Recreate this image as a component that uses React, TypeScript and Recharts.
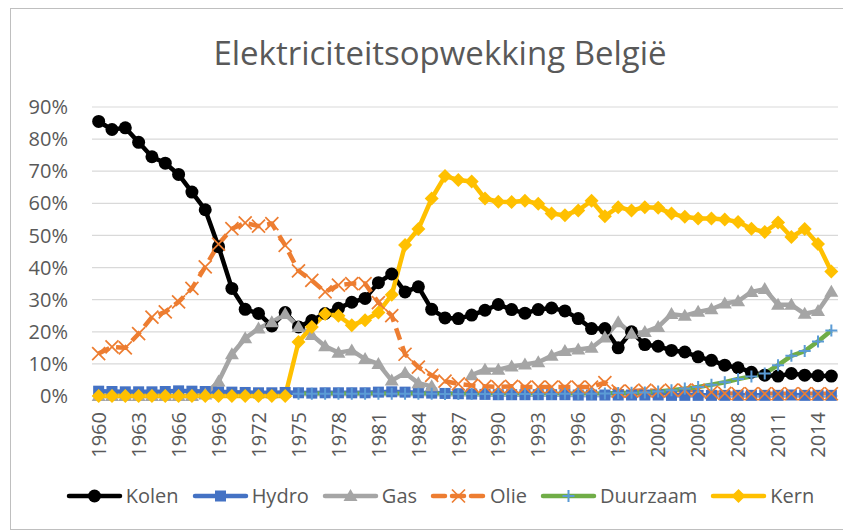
import React from 'react';
import { LineChart, Line, XAxis, YAxis, CartesianGrid, Legend } from 'recharts';

// jaren (categorie-as)
const years = [
  1960, 1961, 1962, 1963, 1964, 1965, 1966, 1967, 1968, 1969,
  1970, 1971, 1972, 1973, 1974, 1975, 1976, 1977, 1978, 1979,
  1980, 1981, 1982, 1983, 1984, 1985, 1986, 1987, 1988, 1989,
  1990, 1991, 1992, 1993, 1994, 1995, 1996, 1997, 1998, 1999,
  2000, 2001, 2002, 2003, 2004, 2005, 2006, 2007, 2008, 2009,
  2010, 2011, 2012, 2013, 2014, 2015,
];
const yearTicks = [1960, 1963, 1966, 1969, 1972, 1975, 1978, 1981, 1984, 1987, 1990, 1993, 1996, 1999, 2002, 2005, 2008, 2011, 2014];
const percentTicks = [0, 10, 20, 30, 40, 50, 60, 70, 80, 90];

// aandeel in % van de totale productie
const kolen = [
  85.5, 83, 83.5, 79, 74.5, 72.5, 69, 63.5, 58, 46.5,
  33.5, 27, 25.7, 21.8, 26, 21.5, 23.5, 25.7, 27.3, 29.2,
  30.4, 35.3, 38, 32.4, 34, 27, 24.3, 24.1, 25.2, 26.7,
  28.5, 26.9, 25.8, 26.9, 27.4, 26.5, 24.1, 21, 21, 15,
  20, 16, 15.5, 14.2, 13.7, 12.2, 11.1, 9.6, 8.8, 7.4,
  6.5, 6.2, 7, 6.5, 6.3, 6.2,
];
const hydro = [
  1.5, 1.4, 1.3, 1.3, 1.3, 1.4, 1.6, 1.5, 1.4, 1.3,
  1.2, 1.1, 1, 1, 1.1, 1, 0.9, 1, 1, 1,
  1, 1.2, 1.3, 1.2, 1, 0.9, 0.8, 0.7, 0.6, 0.5,
  0.4, 0.4, 0.4, 0.4, 0.4, 0.4, 0.3, 0.3, 0.3, 0.3,
  0.3, 0.3, 0.3, 0.2, 0.2, 0.2, 0.2, 0.2, 0.2, 0.2,
  0.2, 0.2, 0.3, 0.2, 0.2, 0.2,
];
const gas = [
  0, 0, 0, 0, 0, 0, 0, 0, 0.5, 4.5,
  13, 18, 21, 23, 25.5, 21.5, 19, 15.5, 13.5, 14.2,
  11.5, 10, 4.8, 7.2, 4, 3, null, null, 6.5, 8.2,
  8.2, 9.2, 9.8, 10.5, 12.5, 14, 14.5, 15, 18.2, 23,
  19.4, 19.9, 21.5, 25.5, 25, 26.2, 27, 28.8, 29.5, 32.4,
  33.3, 28.4, 28.4, 25.6, 26.5, 32.5,
];
const olie = [
  13.2, 15.3, 15, 19.4, 24.6, 26.2, 29.3, 33.5, 40.2, 47.3,
  52.1, 53.9, 52.9, 53.7, 46.9, 39, 36, 32.4, 34.5, 35,
  35, 29.1, 25, 13, 9, 6.4, 4.6, 3.8, 3.3, 3,
  2.8, 3, 2.8, 2.8, 2.8, 2.8, 2.8, 2.8, 4.2, 1.5,
  1.5, 1.8, 1.5, 1.8, 1.8, 1.8, 1.2, 0.8, 0.7, 0.7,
  0.7, 0.7, 0.7, 0.7, 0.7, 0.7,
];
const duurzaam = [
  null, null, null, null, null, null, null, null, null, null,
  null, null, null, null, null, 0.7, 0.7, 0.7, 0.7, 0.7,
  0.7, 0.7, 0.7, 0.7, 0.7, 0.7, 0.6, 0.6, 0.6, 0.6,
  0.6, 0.6, 0.6, 0.6, 0.6, 0.7, 0.7, 0.7, 0.8, 0.9,
  1, 1.1, 1.4, 1.8, 2.3, 2.8, 3.5, 4.3, 5.3, 6.1,
  7, 9.6, 12.5, 14, 17, 20.4,
];
const kern = [
  0, 0, 0, 0, 0, 0, 0, 0, 0, 0,
  0, 0, 0, 0, 0, 16.8, 21.5, 25.5, 25, 22,
  23.6, 26, 31.5, 47, 52, 61.5, 68.5, 67.3, 66.8, 61.5,
  60.5, 60.4, 60.8, 59.9, 56.8, 56.3, 57.8, 60.8, 56, 58.8,
  57.8, 58.8, 58.6, 56.8, 55.8, 55.3, 55.3, 55, 54.2, 52.1,
  51.1, 54, 49.5, 52, 47.3, 38.8,
];

const data = years.map((year, i) => ({
  year,
  kolen: kolen[i],
  hydro: hydro[i],
  gas: gas[i],
  olie: olie[i],
  duurzaam: duurzaam[i],
  kern: kern[i],
}));

const TEXT = '#595959';
const FONT = "'Open Sans', sans-serif";

type MarkerFn = (cx: number, cy: number) => React.ReactElement;

const circle: MarkerFn = (cx, cy) => <circle cx={cx} cy={cy} r={6.5} fill="#000000" />;
const square: MarkerFn = (cx, cy) => <rect x={cx - 5.5} y={cy - 5.5} width={11} height={11} fill="#4472C4" />;
const triangle: MarkerFn = (cx, cy) => (
  <polygon points={`${cx},${cy - 7} ${cx + 7},${cy + 5} ${cx - 7},${cy + 5}`} fill="#A5A5A5" />
);
const cross: MarkerFn = (cx, cy) => (
  <path
    d={`M${cx - 6.5},${cy - 6.5}L${cx + 6.5},${cy + 6.5}M${cx + 6.5},${cy - 6.5}L${cx - 6.5},${cy + 6.5}`}
    stroke="#ED7D31"
    strokeWidth={1.75}
    fill="none"
  />
);
const plus: MarkerFn = (cx, cy) => (
  <path d={`M${cx - 6},${cy}H${cx + 6}M${cx},${cy - 6}V${cy + 6}`} stroke="#5B9BD5" strokeWidth={2} fill="none" />
);
const diamond: MarkerFn = (cx, cy) => (
  <polygon points={`${cx},${cy - 7} ${cx + 7},${cy} ${cx},${cy + 7} ${cx - 7},${cy}`} fill="#FFC000" />
);

const series = [
  { key: 'kolen', name: 'Kolen', color: '#000000', marker: circle, dash: undefined },
  { key: 'hydro', name: 'Hydro', color: '#4472C4', marker: square, dash: undefined },
  { key: 'gas', name: 'Gas', color: '#A5A5A5', marker: triangle, dash: undefined },
  { key: 'olie', name: 'Olie', color: '#ED7D31', marker: cross, dash: '12 7' },
  { key: 'duurzaam', name: 'Duurzaam', color: '#70AD47', marker: plus, dash: undefined },
  { key: 'kern', name: 'Kern', color: '#FFC000', marker: diamond, dash: undefined },
];

const makeDot = (marker: MarkerFn) => (props: any) => {
  const { cx, cy, index } = props;
  if (cx == null || cy == null || Number.isNaN(cy)) return <g key={`d-${index}`} />;
  return <g key={`d-${index}`}>{marker(cx, cy)}</g>;
};

const YearTick = ({ x, y, payload }: any) => (
  <text
    x={x}
    y={y}
    transform={`rotate(-90 ${x} ${y})`}
    textAnchor="end"
    dy="0.36em"
    fill={TEXT}
    fontSize={20}
    fontFamily={FONT}
  >
    {payload.value}
  </text>
);

const LegendContent = () => (
  <div style={{ display: 'flex', justifyContent: 'center', gap: 13, fontFamily: FONT, fontSize: 20, lineHeight: '24px', color: TEXT }}>
    {series.map((s) => (
      <div key={s.key} style={{ display: 'flex', alignItems: 'center' }}>
        <svg width={57} height={16}>
          <line x1={3} x2={54} y1={8} y2={8} stroke={s.color} strokeWidth={4.5} strokeLinecap="round" strokeDasharray={s.dash} />
          {s.marker(28.5, 8)}
        </svg>
        <span style={{ marginLeft: 3 }}>{s.name}</span>
      </div>
    ))}
  </div>
);

export default function App() {
  return (
    <div
      style={{
        position: 'relative',
        marginLeft: 2,
        width: 839,
        height: 522,
        boxSizing: 'border-box',
        border: '1px solid #bfbfbf',
        background: '#ffffff',
      }}
    >
      <div
        style={{
          position: 'absolute',
          top: 27,
          left: 0,
          width: 858,
          textAlign: 'center',
          fontFamily: FONT,
          fontSize: 33,
          lineHeight: 1,
          color: TEXT,
        }}
      >
        Elektriciteitsopwekking België
      </div>
      <LineChart width={837} height={520} data={data} margin={{ top: 98, right: 10, bottom: 73, left: 0 }}>
        <CartesianGrid vertical={false} stroke="#d9d9d9" strokeWidth={1.2} />
        <XAxis
          dataKey="year"
          type="number"
          domain={[1959.5, 2015.5]}
          ticks={yearTicks}
          interval={0}
          tick={<YearTick />}
          tickLine={false}
          tickSize={0}
          tickMargin={16}
          height={60}
          axisLine={{ stroke: '#d9d9d9' }}
        />
        <YAxis
          domain={[0, 90]}
          ticks={percentTicks}
          tickFormatter={(v: number) => `${v}%`}
          axisLine={false}
          tickLine={false}
          tickSize={0}
          tickMargin={24}
          width={81}
          tick={{ fill: TEXT, fontSize: 20, fontFamily: FONT }}
        />
        {series.map((s) => (
          <Line
            key={s.key}
            dataKey={s.key}
            name={s.name}
            stroke={s.color}
            strokeWidth={4.5}
            strokeDasharray={s.dash}
            strokeLinejoin="round"
            dot={makeDot(s.marker)}
            activeDot={false}
            isAnimationActive={false}
          />
        ))}
        <Legend
          content={<LegendContent />}
          layout="horizontal"
          verticalAlign="middle"
          align="center"
          wrapperStyle={{ top: 475, left: 21, width: 816 }}
        />
      </LineChart>
    </div>
  );
}
